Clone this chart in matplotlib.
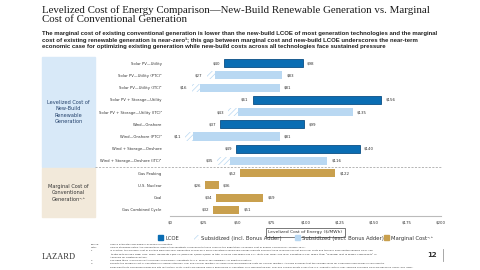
import matplotlib.pyplot as plt
from matplotlib.patches import Rectangle, Patch

# rows, top to bottom
rows = ["Solar PV\u2014Utility", "Solar PV\u2014Utility (PTC)\u00b2", "Solar PV\u2014Utility (ITC)\u00b2",
        "Solar PV + Storage\u2014Utility", "Solar PV + Storage\u2014Utility (ITC)\u00b2",
        "Wind\u2014Onshore", "Wind\u2014Onshore (PTC)\u00b2", "Wind + Storage\u2014Onshore",
        "Wind + Storage\u2014Onshore (ITC)\u00b2", "Gas Peaking", "U.S. Nuclear", "Coal",
        "Gas Combined Cycle"]

# unsubsidized LCOE
lcoe_idx = [0, 3, 5, 7]
lcoe_low = [40, 61, 37, 49]
lcoe_high = [98, 156, 99, 140]

# subsidized
sub_idx = [1, 2, 4, 6, 8]
sub_incl = [27, 16, 43, 11, 35]
sub_excl = [33, 22, 50, 17, 44]
sub_high = [83, 81, 135, 81, 116]

# marginal cost of conventional generation
mc_idx = [9, 10, 11, 12]
mc_low = [52, 26, 34, 32]
mc_high = [122, 36, 69, 51]

ticks = [0, 25, 50, 75, 100, 125, 150, 175, 200]

DARK = "#0a6db3"
LIGHT = "#b9d8f2"
GOLD = "#c9a04e"
TXT = "#333333"

plt.rcParams["hatch.linewidth"] = 0.5
fig = plt.figure(figsize=(4.8, 2.7), dpi=100)
ax = fig.add_axes([170 / 480, 1 - 216 / 270, 271 / 480, 159 / 270])

h = 0.66
ax.barh(lcoe_idx, [b - a for a, b in zip(lcoe_low, lcoe_high)], left=lcoe_low, height=h,
        color=DARK, edgecolor="#0b4f85", linewidth=0.6)
ax.barh(sub_idx, [b - a for a, b in zip(sub_incl, sub_excl)], left=sub_incl, height=h,
        color="white", edgecolor=LIGHT, hatch="//////", linewidth=0)
ax.barh(sub_idx, [b - a for a, b in zip(sub_excl, sub_high)], left=sub_excl, height=h,
        color=LIGHT, linewidth=0)
ax.barh(mc_idx, [b - a for a, b in zip(mc_low, mc_high)], left=mc_low, height=h,
        color=GOLD, linewidth=0)

fs = 2.9
for idx, lo, hi in [(lcoe_idx, lcoe_low, lcoe_high), (sub_idx, sub_incl, sub_high),
                    (mc_idx, mc_low, mc_high)]:
    for i, a, b in zip(idx, lo, hi):
        ax.annotate(f"${a}", (a, i), xytext=(-3, 0), textcoords="offset points",
                    ha="right", va="center", fontsize=fs, color=TXT)
        ax.annotate(f"${b}", (b, i), xytext=(3, 0), textcoords="offset points",
                    ha="left", va="center", fontsize=fs, color=TXT)

ax.set_xlim(0, 200)
ax.set_ylim(12.5, -0.5)
ax.set_yticks(range(len(rows)))
ax.set_yticklabels(rows, fontsize=2.7, color=TXT)
ax.tick_params(axis="y", length=0, pad=6)
ax.set_xticks(ticks)
ax.set_xticklabels([f"${t}" for t in ticks], fontsize=fs, color=TXT)
ax.tick_params(axis="x", length=0, pad=3)
for s in ["top", "right", "left"]:
    ax.spines[s].set_visible(False)
ax.spines["bottom"].set_color("#bbbbbb")
ax.spines["bottom"].set_linewidth(0.8)
ax.set_xlabel("Levelized Cost of Energy ($/MWh)", fontsize=3.2, color=TXT,
              bbox=dict(boxstyle="square,pad=0.6", facecolor="white", edgecolor="#444444",
                        linewidth=0.5))
ax.xaxis.set_label_coords(0.5, -0.09)

# dashed separator between groups
fig.add_artist(plt.Line2D([95 / 480, 441 / 480], [1 - 167 / 270] * 2, color="#999999",
                          linewidth=0.5, linestyle=(0, (3, 2))))

# left group panels
fig.add_artist(Rectangle((42 / 480, 1 - 167 / 270), 53 / 480, 110 / 270,
                         transform=fig.transFigure, color="#d8e9f8", zorder=0))
fig.add_artist(Rectangle((42 / 480, 1 - 217 / 270), 53 / 480, 49 / 270,
                         transform=fig.transFigure, color="#f2e9da", zorder=0))
fig.text(68.5 / 480, 1 - 112 / 270, "Levelized Cost of\nNew-Build\nRenewable\nGeneration",
         ha="center", va="center", fontsize=3.6, color="#22406a", linespacing=1.3)
fig.text(68.5 / 480, 1 - 193 / 270, "Marginal Cost of\nConventional\nGeneration\u00b9\u02d2\u00b3",
         ha="center", va="center", fontsize=3.6, color="#333333", linespacing=1.3)

# title and subtitle
fig.text(42 / 480, 1 - 5 / 270,
         "Levelized Cost of Energy Comparison\u2014New-Build Renewable Generation vs. Marginal\n"
         "Cost of Conventional Generation",
         ha="left", va="top", fontsize=7.85, family="Liberation Serif", color="#1a1a1a",
         linespacing=1.1)
fig.text(42 / 480, 1 - 30.5 / 270,
         "The marginal cost of existing conventional generation is lower than the new-build LCOE of most "
         "generation technologies and the marginal\ncost of existing renewable generation is near-zero\u00b9; "
         "this gap between marginal cost and new-build LCOE underscores the near-term\neconomic case for "
         "optimizing existing generation while new-build costs across all technologies face sustained pressure",
         ha="left", va="top", fontsize=4.3, fontweight="bold", family="Liberation Sans",
         color="#222222", linespacing=1.4)

# legend, one entry at a time to match the uneven spacing
entries = [
    (Patch(facecolor=DARK, edgecolor=DARK), "LCOE", 158),
    (Patch(facecolor="white", edgecolor=LIGHT, hatch="//////", linewidth=0),
     "Subsidized (incl. Bonus Adder)", 194),
    (Patch(facecolor=LIGHT, edgecolor=LIGHT), "Subsidized (excl. Bonus Adder)", 295),
    (Patch(facecolor=GOLD, edgecolor=GOLD), "Marginal Cost\u00b9\u02d2\u00b3", 384),
]
for hnd, lab, x in entries:
    fig.legend([hnd], [lab], loc="center left", bbox_to_anchor=(x / 480, 1 - 238 / 270),
               frameon=False, fontsize=3.8, handlelength=0.9, handleheight=0.9,
               handletextpad=0.5, borderpad=0, borderaxespad=0, labelcolor="#333333")

# footnotes
notes = [
    ("Source:", "Lazard estimates and publicly available information."),
    ("Note:", "Unless otherwise noted, the assumptions used in this sensitivity correspond to those used on the page "
              "titled \u201cLevelized Cost of Energy Comparison\u2014Version 18.0\u201d."),
    ("1", "In practice, the marginal cost of existing wind and solar generation is near-zero when operating in "
          "wholesale energy markets because these resources do not incur fuel costs and typically have limited variable O&M. The"),
    ("", "treatment excludes Fixed O&M, which represents $x/MWh \u2013 $x/MWh and $x/MWh \u2013 $x/MWh of total LCOE for "
         "new-build Solar PV\u2014Utility and Wind\u2014Onshore, respectively. See pages titled \u201cLevelized Cost of Energy Components\u201d in"),
    ("", "Appendix for additional details."),
    ("2", "See page titled \u201cLevelized Cost of Energy Comparison\u2014Sensitivity to U.S. Federal Tax Subsidies\u201d for additional details."),
    ("3", "Reflects the marginal cost of operating fully depreciated gas, coal and nuclear facilities, inclusive of "
          "decommissioning costs for nuclear facilities. Analysis assumes that the salvage value for a decommissioned gas or coal asset is"),
    ("", "equivalent to its decommissioning and site restoration costs. Inputs are derived from a benchmark of operating, "
         "fully depreciated gas, coal and nuclear assets across the U.S. Capacity factors, fuel, variable and fixed O&M are based on upper- and lower-"),
]
for k, (tag, line) in enumerate(notes):
    y = 1 - (244 + k * 3.3) / 270
    fig.text(91 / 480, y, tag, fontsize=1.7, va="center", ha="left", color="#333333")
    fig.text(110 / 480, y, line, fontsize=1.7, va="center", ha="left", color="#333333")

fig.text(42 / 480, 1 - 257 / 270, "LAZARD", fontsize=6, family="Liberation Serif",
         color="#333333", va="center", ha="left")
fig.text(437 / 480, 1 - 255 / 270, "12", fontsize=5, color="#333333", va="center", ha="right",
         fontweight="bold")
fig.add_artist(plt.Line2D([443 / 480] * 2, [1 - 249 / 270, 1 - 261 / 270], color="#999999",
                          linewidth=0.6))

fig.savefig("out.png", dpi=100)
